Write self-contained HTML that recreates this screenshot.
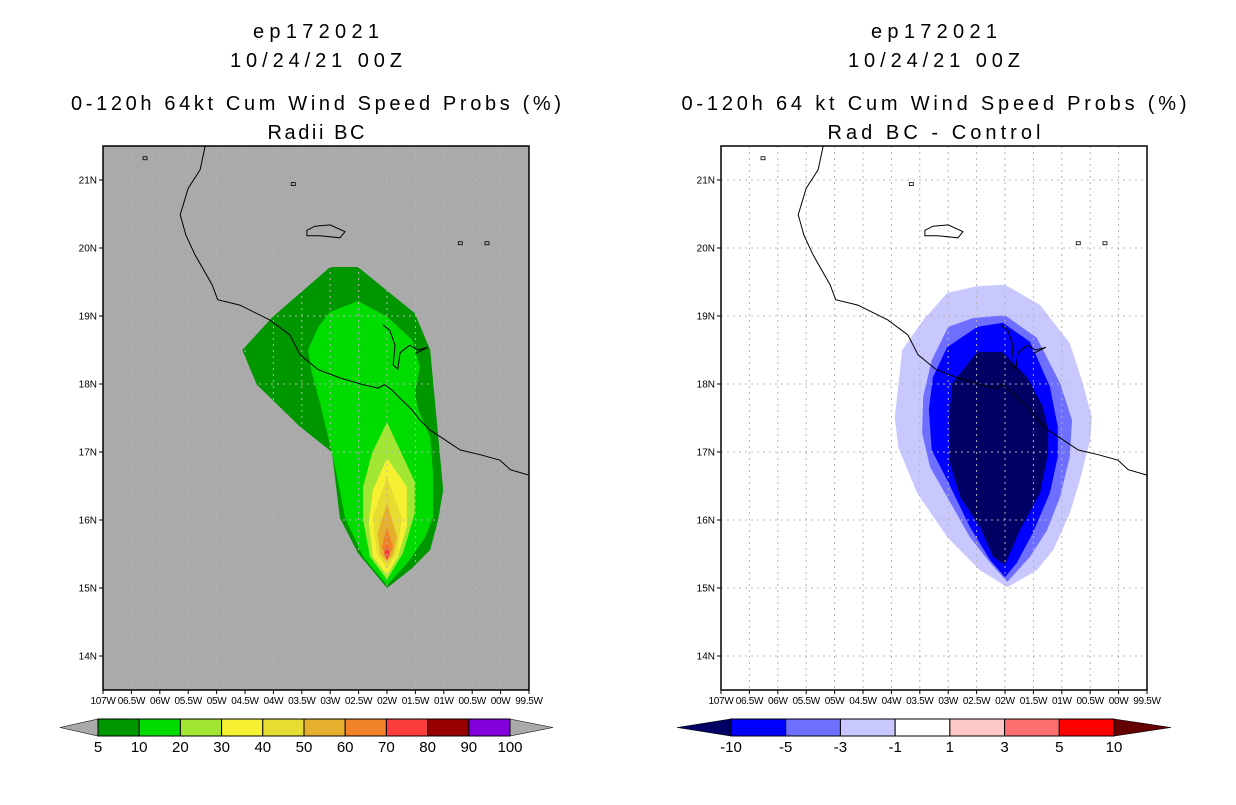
<!DOCTYPE html>
<html><head><meta charset="utf-8">
<style>
body{margin:0;background:#fff;}
svg text{font-family:"Liberation Sans",sans-serif;}
</style></head>
<body>
<svg id="root" width="1236" height="800" xmlns="http://www.w3.org/2000/svg"></svg>
<script>
// ---- data ----
const lonTicks=[107,106.5,106,105.5,105,104.5,104,103.5,103,102.5,102,101.5,101,100.5,100,99.5];
const lonTickLabels=["107W","06.5W","06W","05.5W","05W","04.5W","04W","03.5W","03W","02.5W","02W","01.5W","01W","00.5W","00W","99.5W"];
const latTicks=[14,15,16,17,18,19,20,21];
const latTickLabels=["14N","15N","16N","17N","18N","19N","20N","21N"];
const probLevels=[5,10,20,30,40,50,60,70,80,90,100];
const probColors=["#009600","#00dc00","#a0e632","#f5f032","#e6dc32","#e6af2d","#f08228","#fa3c3c","#960000","#8200dc"];
const diffLevels=["-10","-5","-3","-1","1","3","5","10"];
const diffColors=["#000064","#0000ff","#6e6eff","#c8c8ff","#ffffff","#ffc8c8","#ff6e6e","#ff0000"];
const probContours=[
 {lvl:0,lon:[103.0,102.51,101.51,101.24,101.01,101.10,101.24,101.56,102.0,102.51,102.83,102.97,103.53,104.29,104.55,104.01],
        lat:[19.72,19.72,19.04,18.5,16.44,16.0,15.56,15.29,15.0,15.51,16.03,17.0,17.37,17.99,18.5,18.99]},
 {lvl:1,lon:[102.51,102.0,101.56,101.42,101.51,101.45,101.24,101.19,101.19,101.33,101.60,102.0,102.42,102.74,102.83,102.97,103.18,103.32,103.39,103.21,103.0],
        lat:[19.22,18.99,18.65,18.25,17.87,17.62,17.22,16.69,16.04,15.75,15.41,15.04,15.46,16.03,16.44,16.99,17.72,18.16,18.5,18.84,19.06]},
 {lvl:2,lon:[102.0,101.51,101.51,101.72,102.0,102.30,102.42,102.42,102.26],lat:[17.44,16.56,16.10,15.51,15.12,15.46,16.0,16.49,16.99]},
 {lvl:3,lon:[102.0,101.65,101.65,101.81,102.0,102.25,102.32,102.25],lat:[16.91,16.49,15.90,15.46,15.19,15.46,15.96,16.44]},
 {lvl:4,lon:[102.0,101.74,101.82,102.0,102.18,102.25],lat:[16.63,16.04,15.51,15.29,15.51,16.04]},
 {lvl:5,lon:[102.0,101.82,101.89,102.0,102.12,102.16],lat:[16.25,15.75,15.49,15.38,15.51,15.81]},
 {lvl:6,lon:[102.0,101.89,102.0,102.09],lat:[15.90,15.60,15.44,15.60]},
 {lvl:7,lon:[102.0,101.95,102.0,102.05],lat:[15.63,15.51,15.41,15.51]}
];
const diffContours=[
 {lvl:3,lon:[102.49,102.0,101.38,100.86,100.63,100.47,100.50,100.68,100.86,101.15,101.44,101.96,102.44,103.02,103.55,103.88,103.94,103.81,103.44,103.02],
        lat:[19.44,19.46,19.16,18.60,18.01,17.51,17.18,16.59,16.10,15.56,15.26,15.01,15.26,15.75,16.40,17.07,17.51,18.5,18.94,19.34]},
 {lvl:2,lon:[102.0,101.44,101.03,100.82,100.86,101.03,101.26,101.56,101.96,102.26,102.62,103.02,103.32,103.46,103.44,103.29,103.0,102.56],
        lat:[19.01,18.68,18.01,17.47,16.93,16.34,15.85,15.46,15.09,15.37,15.75,16.34,16.78,17.28,17.81,18.35,18.84,18.97]},
 {lvl:1,lon:[102.49,102.04,101.56,101.21,101.07,101.07,101.21,101.51,101.79,102.0,102.26,102.62,103.02,103.29,103.34,103.27,103.02],
        lat:[18.84,18.90,18.62,17.96,17.37,16.93,16.40,15.81,15.37,15.16,15.41,15.90,16.59,17.03,17.62,18.10,18.54]},
 {lvl:0,lon:[102.49,102.04,101.61,101.33,101.24,101.24,101.38,101.74,102.0,102.21,102.44,102.79,102.97,102.99,102.93],
        lat:[18.47,18.47,18.10,17.66,17.32,16.99,16.40,15.85,15.34,15.46,15.90,16.34,16.84,17.47,18.01]}
];
const coastLon=[105.20,105.29,105.50,105.64,105.54,105.38,105.08,104.98,104.59,104.06,103.71,103.53,103.21,102.83,102.42,102.16,102.04,101.91,101.77,101.56,101.42,101.24,100.98,100.71,100.36,100.01,99.83,99.50];
const coastLat=[21.5,21.15,20.88,20.49,20.19,19.90,19.46,19.24,19.16,18.94,18.72,18.43,18.21,18.09,17.99,17.94,17.99,17.91,17.79,17.62,17.47,17.32,17.18,17.03,16.96,16.88,16.74,16.66];
const islandLon=[103.41,103.27,103.00,102.74,102.83,103.18,103.41];
const islandLat=[20.26,20.32,20.34,20.24,20.15,20.18,20.18];
const lakeLon=[102.07,101.95,101.86,101.89,101.81,101.77,101.60,101.46,101.28,101.50];
const lakeLat=[18.87,18.79,18.57,18.28,18.22,18.46,18.57,18.50,18.54,18.45];
const dotLon=[106.26,103.65,100.71,100.24];
const dotLat=[21.32,20.94,20.07,20.07];

// ---- drawing ----
const NS="http://www.w3.org/2000/svg";
const root=document.getElementById('root');
function mk(tag,attrs,parent){const e=document.createElementNS(NS,tag);for(const k in attrs)e.setAttribute(k,attrs[k]);(parent||root).appendChild(e);return e;}
const W0=107,W1=99.5,LAT0=13.5,LAT1=21.5,PW=426,PH=544,PT=146;
function panel(px,bg,contours,colors,title3,title4,widths,pname){
  const g=mk('g',{});
  
  
  const xs=lon=>px+(W0-lon)/(W0-W1)*PW;
  const ys=lat=>PT+(LAT1-lat)/(LAT1-LAT0)*PH;
  const cx=px+PW/2;
  const t=[["ep172021",38],["10/24/21 00Z",67],[title3,110],[title4,139]];
  t.forEach((s,i)=>{const e=mk('text',{x:cx,y:s[1],'text-anchor':'middle','font-size':20,textLength:widths[i],lengthAdjust:'spacing',fill:'#000'},g);e.textContent=s[0];
    });
  const clip='clip'+px;
  const cp=mk('clipPath',{id:clip},g);mk('rect',{x:px,y:PT,width:PW,height:PH},cp);
  const bgr=mk('rect',{x:px,y:PT,width:PW,height:PH,fill:bg},g);
  
  const cg=mk('g',{'clip-path':'url(#'+clip+')'},g);
  contours.forEach(c=>{
    const pts=c.lon.map((l,i)=>xs(l).toFixed(1)+','+ys(c.lat[i]).toFixed(1)).join(' ');
    const p=mk('polygon',{points:pts,fill:colors[c.lvl]},cg);
    
    
  });
  lonTicks.forEach(l=>{const x=xs(l);if(l<W0&&l>W1){const e=mk('line',{x1:x,y1:PT,x2:x,y2:PT+PH,stroke:'#b4b4b4','stroke-dasharray':'2,4'},cg);
    }});
  latTicks.forEach(l=>{const y=ys(l);const e=mk('line',{x1:px,y1:y,x2:px+PW,y2:y,stroke:'#b4b4b4','stroke-dasharray':'2,4'},cg);
    });
  const poly=(lo,la)=>lo.map((l,i)=>xs(l).toFixed(1)+','+ys(la[i]).toFixed(1)).join(' ');
  const cl=mk('polyline',{points:poly(coastLon,coastLat),fill:'none',stroke:'#000','stroke-width':1},cg);
  
  const il=mk('polygon',{points:poly(islandLon,islandLat),fill:'none',stroke:'#000','stroke-width':1},cg);
  
  const lk=mk('polyline',{points:poly(lakeLon,lakeLat),fill:'none',stroke:'#000','stroke-width':1},cg);
  
  dotLon.forEach((l,i)=>{const e=mk('rect',{x:xs(l)-2,y:ys(dotLat[i])-1.5,width:4,height:3,fill:'none',stroke:'#000','stroke-width':0.8},cg);
    });
  const fr=mk('rect',{x:px,y:PT,width:PW,height:PH,fill:'none',stroke:'#000','stroke-width':1.5},g);
  
  lonTicks.forEach((l,i)=>{const x=xs(l);mk('line',{x1:x,y1:PT+PH,x2:x,y2:PT+PH+4,stroke:'#000'},g);
    const e=mk('text',{x:x,y:PT+PH+14,'text-anchor':'middle','font-size':10,'letter-spacing':-0.3,fill:'#000'},g);e.textContent=lonTickLabels[i];
    });
  latTicks.forEach((l,i)=>{const y=ys(l);mk('line',{x1:px-4,y1:y,x2:px,y2:y,stroke:'#000'},g);
    const e=mk('text',{x:px-6,y:y+3.5,'text-anchor':'end','font-size':10,fill:'#000'},g);e.textContent=latTickLabels[i];
    });
}
panel(103,'#aaaaaa',probContours,probColors,"0-120h 64kt Cum Wind Speed Probs (%)","Radii BC",[126,172,490,97],'left-map');
panel(721,'#ffffff',diffContours,diffColors,"0-120h 64 kt Cum Wind Speed Probs (%)","Rad BC - Control",[126,172,505,213],'right-map');

function colorbar(x0,tipL,tipR,colors,labels,lc,rc,name){
  const g=mk('g',{});
  
  
  const y0=719,y1=736,n=colors.length,bw=(tipR.box-x0)/n;
  mk('polygon',{points:`${tipL},727.5 ${x0},${y0} ${x0},${y1}`,fill:lc,stroke:'#000','stroke-width':0.6},g);
  mk('polygon',{points:`${tipR.box},${y0} ${tipR.tip},727.5 ${tipR.box},${y1}`,fill:rc,stroke:'#000','stroke-width':0.6},g);
  colors.forEach((c,i)=>{const r=mk('rect',{x:x0+i*bw,y:y0,width:bw,height:y1-y0,fill:c,stroke:'#000','stroke-width':1},g);
    });
  labels.forEach((s,i)=>{const e=mk('text',{x:x0+i*bw,y:752,'text-anchor':'middle','font-size':15,fill:'#000'},g);e.textContent=s;
    });
}
colorbar(98,60,{box:510,tip:553},probColors,probLevels.map(String),'#aaaaaa','#aaaaaa','prob-colorbar');
colorbar(731,677,{box:1114,tip:1171},diffColors.slice(1),diffLevels,'#000064','#640000','diff-colorbar');
</script>
</body></html>
